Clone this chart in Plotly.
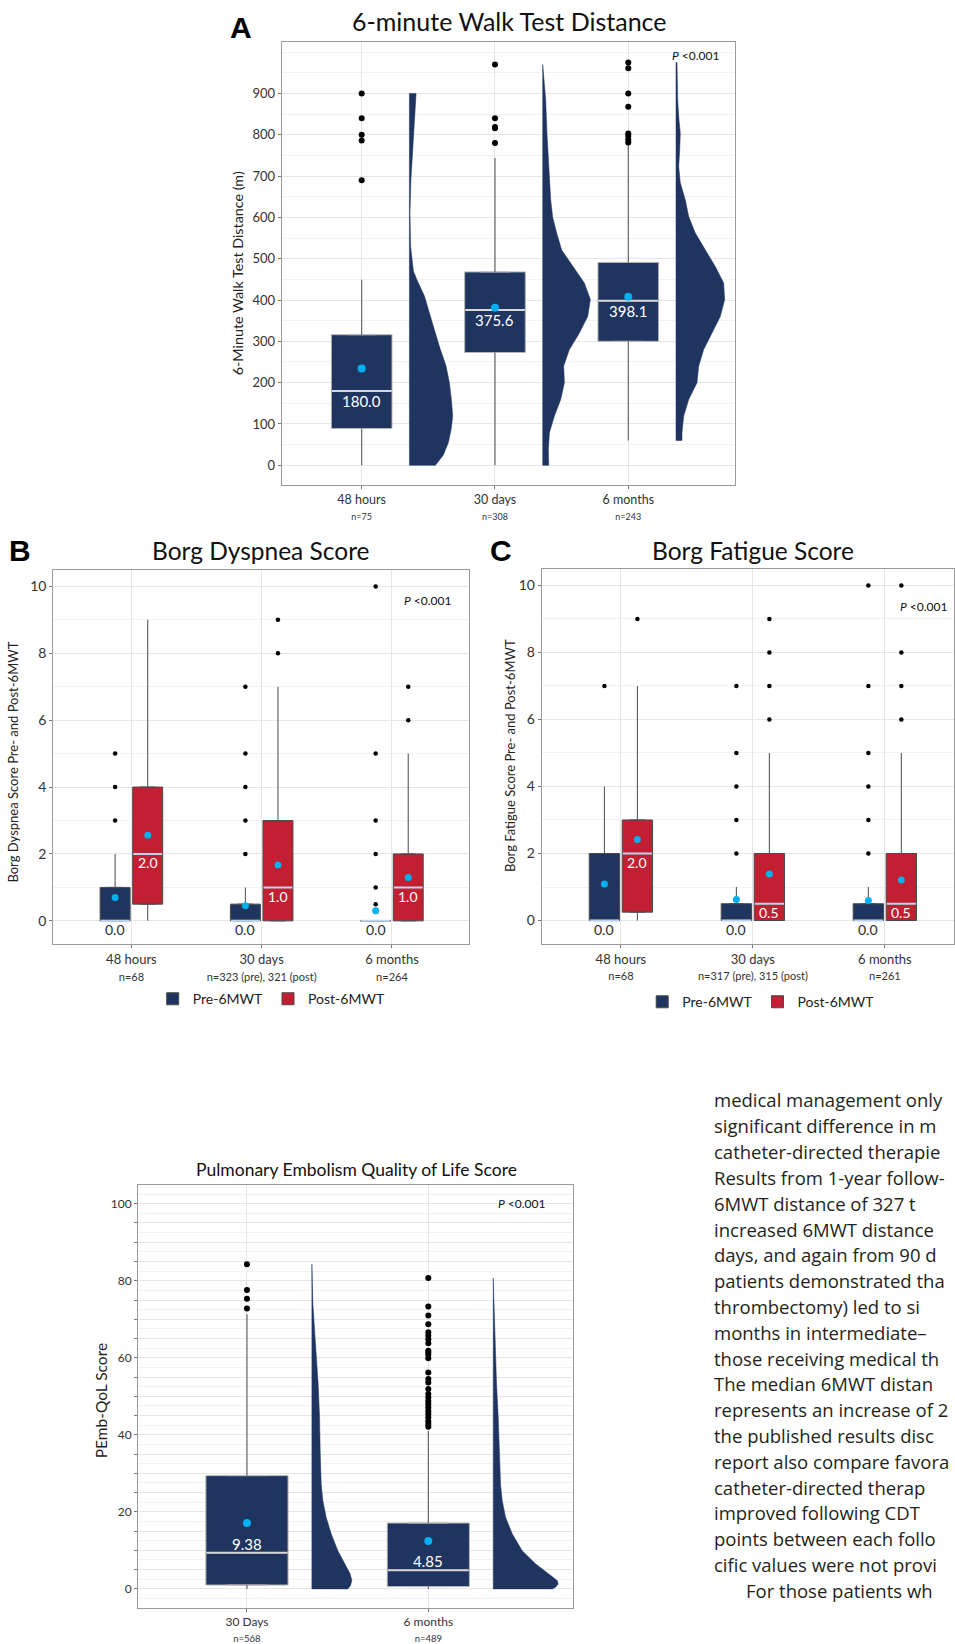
import plotly.graph_objects as go

# ---------------- DATA ----------------
# Panel A: 6-minute walk test distance
A_cats = ["48 hours", "30 days", "6 months"]
A_n = ["n=75", "n=308", "n=243"]
A_q1 = [89, 273, 300]
A_median = [180.0, 375.6, 398.1]
A_q3 = [316, 468, 491]
A_lower = [0, 0, 60]
A_upper = [449, 744, 776]
A_mean = [234, 381, 408]
A_outliers = [[900, 840, 800, 786, 690],
              [970, 840, 819, 816, 780],
              [975, 961, 900, 868, 803, 797, 788, 781]]
A_violin_y = [
    [0, 25, 55, 90, 120, 160, 200, 240, 280, 328, 370, 410, 449, 470, 530, 611, 690, 750, 811, 860, 900],
    [0, 39, 79, 119, 159, 200, 240, 280, 320, 360, 401, 441, 483, 521, 562, 600, 642, 723, 803, 884, 940, 970],
    [60, 79, 119, 159, 200, 240, 280, 320, 360, 401, 441, 481, 521, 562, 602, 642, 684, 723, 763, 803, 844, 884, 975],
]
A_violin_d = [
    [26, 34, 39, 42, 43.3, 42, 40, 36.7, 31, 25, 20, 15, 7.5, 4, 1.2, 0.6, 1.5, 3, 4.7, 6, 6.7],
    [6, 5.7, 6.7, 11.7, 18, 21.7, 21, 26.7, 36.7, 45, 47.7, 41.7, 30, 19, 14, 10, 8, 6, 4.3, 3, 1.5, 0.3],
    [6, 6, 7.7, 12.7, 21, 22.7, 27.7, 36, 44.3, 48.7, 47.7, 39.3, 29.3, 19.3, 12.7, 9.3, 4.3, 2.7, 3.7, 4.3, 2.7, 1.7, 1],
]

# Panel B: Borg dyspnea
B_cats = ["48 hours", "30 days", "6 months"]
B_n = ["n=68", "n=323 (pre), 321 (post)", "n=264"]
B_pre_q1 = [0, 0, 0]
B_pre_median = [0.0, 0.0, 0.0]
B_pre_q3 = [1, 0.5, 0]
B_pre_lower = [0, 0, 0]
B_pre_upper = [2, 1, 0]
B_pre_mean = [0.70, 0.45, 0.30]
B_pre_outliers = [[3, 4, 5], [2, 3, 4, 5, 7], [0.5, 1, 2, 3, 5, 10]]
B_post_q1 = [0.5, 0, 0]
B_post_median = [2.0, 1.0, 1.0]
B_post_q3 = [4, 3, 2]
B_post_lower = [0, 0, 0]
B_post_upper = [9, 7, 5]
B_post_mean = [2.56, 1.67, 1.30]
B_post_outliers = [[], [8, 9], [6, 7]]

# Panel C: Borg fatigue
C_cats = ["48 hours", "30 days", "6 months"]
C_n = ["n=68", "n=317 (pre), 315 (post)", "n=261"]
C_pre_q1 = [0, 0, 0]
C_pre_median = [0.0, 0.0, 0.0]
C_pre_q3 = [2, 0.5, 0.5]
C_pre_lower = [0, 0, 0]
C_pre_upper = [4, 1, 1]
C_pre_mean = [1.09, 0.63, 0.60]
C_pre_outliers = [[7], [2, 3, 4, 5, 7], [2, 3, 4, 5, 7, 10]]
C_post_q1 = [0.25, 0, 0]
C_post_median = [2.0, 0.5, 0.5]
C_post_q3 = [3, 2, 2]
C_post_lower = [0, 0, 0]
C_post_upper = [7, 5, 5]
C_post_mean = [2.42, 1.39, 1.21]
C_post_outliers = [[9], [6, 7, 8, 9], [6, 7, 8, 10]]

# Panel D: PEmb-QoL
D_cats = ["30 Days", "6 months"]
D_n = ["n=568", "n=489"]
D_q1 = [1.0, 0.6]
D_median = [9.38, 4.85]
D_q3 = [29.4, 17.1]
D_lower = [0, 0]
D_upper = [71.3, 41.0]
D_mean = [17.1, 12.4]
D_outliers = [[84.3, 77.6, 75.3, 72.8],
              [80.7, 73.3, 71.0, 68.7, 66.6, 65.7, 64.8, 63.8, 61.8, 61.4, 60.8, 59.9,
               56.2, 54.5, 53.6, 51.9, 50.6, 49.7, 48.8, 48.0, 47.1, 46.2, 45.4, 44.5,
               43.5, 42.8, 42.1]]
D_violin_y = [
    [0, 0.9, 2.2, 3.9, 6.5, 9.9, 14.3, 18.6, 22.9, 27.2, 35.9, 44.5, 53.2, 61.8, 73.9, 84.3],
    [0, 0.4, 1.3, 2.2, 3.9, 6.5, 9.9, 14.3, 18.6, 22.9, 27.2, 35.9, 44.5, 53.2, 61.8, 70.4, 80.7],
]
D_violin_d = [
    [36, 38.7, 40, 38.3, 32.7, 26, 19.3, 14.3, 11, 9.3, 8.3, 7.7, 6.3, 4.3, 1, 0],
    [59, 62.3, 65, 64, 55.7, 42.3, 29, 19, 12.3, 9, 7.3, 6.3, 5, 3.3, 2.3, 1, 0],
]

BODY_LINES = [
    "medical management only",
    "significant difference in m",
    "catheter-directed therapie",
    "Results from 1-year follow-",
    "6MWT distance of 327 t",
    "increased 6MWT distance",
    "days, and again from 90 d",
    "patients demonstrated tha",
    "thrombectomy) led to si",
    "months in intermediate\u2013",
    "those receiving medical th",
    "The median 6MWT distan",
    "represents an increase of 2",
    "the published results disc",
    "report also compare favora",
    "catheter-directed therap",
    "improved following CDT",
    "points between each follo",
    "cific values were not provi",
    "For those patients wh",
]

# ---------------- STYLE ----------------
W, H = 955, 1644
FONT = "Lato"
BODY_FONT = "Open Sans"
NAVY = "#1f3560"
RED = "#c21f32"
CYAN = "#00b0f0"
GRID = "#e6e6e6"
MINOR = "#f2f2f2"
BORDER = "#9a9a9a"

fig = go.Figure()


def px_x(p):
    return p / W


def px_y(p):
    return 1 - p / H


def add_boxes(xa, ya, pos, q1, med, q3, lo, hi, width, fill, outline, medcol,
              name=None, legend=None, showlegend=False):
    fig.add_trace(go.Box(x=pos, q1=q1, median=med, q3=q3, lowerfence=q1, upperfence=q3,
                         width=width, fillcolor=fill, line=dict(color=outline, width=1),
                         boxpoints=False, xaxis=xa, yaxis=ya, name=name,
                         legend=legend, showlegend=showlegend, hoverinfo="skip"))
    wx, wy = [], []
    for p, a, b, c, d in zip(pos, q1, q3, lo, hi):
        wx += [p, p, None, p, p, None]
        wy += [b, d, None, a, c, None]
    fig.add_trace(go.Scatter(x=wx, y=wy, mode="lines", line=dict(color="#5a5a5a", width=1.1),
                             xaxis=xa, yaxis=ya, showlegend=False, hoverinfo="skip"))
    mx, my = [], []
    for p, m in zip(pos, med):
        mx += [p - width / 2 + 0.004, p + width / 2 - 0.004, None]
        my += [m, m, None]
    fig.add_trace(go.Scatter(x=mx, y=my, mode="lines", line=dict(color=medcol, width=2),
                             xaxis=xa, yaxis=ya, showlegend=False, hoverinfo="skip"))


def add_points(xa, ya, pos, outliers, mean, osize, msize):
    ox, oy = [], []
    for p, outs in zip(pos, outliers):
        ox += [p] * len(outs)
        oy += outs
    fig.add_trace(go.Scatter(x=ox, y=oy, mode="markers", marker=dict(color="black", size=osize),
                             xaxis=xa, yaxis=ya, showlegend=False, hoverinfo="skip"))
    fig.add_trace(go.Scatter(x=pos, y=mean, mode="markers", marker=dict(color=CYAN, size=msize),
                             xaxis=xa, yaxis=ya, showlegend=False, hoverinfo="skip"))


def add_violin(xa, ya, center, ys, ds, scale, offset):
    base = center + offset
    xs = [base] + [base + d * scale for d in ds] + [base, base]
    yy = [ys[0]] + list(ys) + [ys[-1], ys[0]]
    fig.add_trace(go.Scatter(x=xs, y=yy, mode="lines", fill="toself", fillcolor=NAVY,
                             line=dict(color=NAVY, width=0.5),
                             xaxis=xa, yaxis=ya, showlegend=False, hoverinfo="skip"))


def median_labels(xa, ya, pos, med, q1, fmt, shift, size):
    for p, m, a in zip(pos, med, q1):
        col = "white" if (m > a or shift > 0) else "#2b2b2b"
        fig.add_annotation(x=p, y=m, xref=xa, yref=ya, text=fmt.format(m), showarrow=False,
                           yshift=shift, font=dict(family=FONT, size=size, color=col))


# ---------- Panel A ----------
posA = list(range(len(A_cats)))
for i in posA:
    add_violin("x", "y", i, A_violin_y[i], A_violin_d[i], 1 / 133.4, 0.358)
add_boxes("x", "y", posA, A_q1, A_median, A_q3, A_lower, A_upper, 0.455, NAVY, "#b5b5b5", "#d6d6d6")
add_points("x", "y", posA, A_outliers, A_mean, 6, 8)
median_labels("x", "y", posA, A_median, A_q1, "{:.1f}", -10, 15)

# ---------- Panel B ----------
posB = list(range(len(B_cats)))
preB = [p - 0.125 for p in posB]
postB = [p + 0.125 for p in posB]
add_boxes("x2", "y2", preB, B_pre_q1, B_pre_median, B_pre_q3, B_pre_lower, B_pre_upper, 0.23,
          NAVY, "#4a4a4a", "#bcd5ee", name="Pre-6MWT", legend="legend", showlegend=True)
add_boxes("x2", "y2", postB, B_post_q1, B_post_median, B_post_q3, B_post_lower, B_post_upper, 0.23,
          RED, "#4a4a4a", "#bcd5ee", name="Post-6MWT", legend="legend", showlegend=True)
add_points("x2", "y2", preB, B_pre_outliers, B_pre_mean, 4.5, 7)
add_points("x2", "y2", postB, B_post_outliers, B_post_mean, 4.5, 7)
median_labels("x2", "y2", preB, B_pre_median, B_pre_q1, "{:.1f}", -9, 14)
median_labels("x2", "y2", postB, B_post_median, B_post_q1, "{:.1f}", -9, 14)

# ---------- Panel C ----------
posC = list(range(len(C_cats)))
preC = [p - 0.125 for p in posC]
postC = [p + 0.125 for p in posC]
add_boxes("x3", "y3", preC, C_pre_q1, C_pre_median, C_pre_q3, C_pre_lower, C_pre_upper, 0.23,
          NAVY, "#4a4a4a", "#bcd5ee", name="Pre-6MWT", legend="legend2", showlegend=True)
add_boxes("x3", "y3", postC, C_post_q1, C_post_median, C_post_q3, C_post_lower, C_post_upper, 0.23,
          RED, "#4a4a4a", "#bcd5ee", name="Post-6MWT", legend="legend2", showlegend=True)
add_points("x3", "y3", preC, C_pre_outliers, C_pre_mean, 4.5, 7)
add_points("x3", "y3", postC, C_post_outliers, C_post_mean, 4.5, 7)
median_labels("x3", "y3", preC, C_pre_median, C_pre_q1, "{:.1f}", -9, 14)
median_labels("x3", "y3", postC, C_post_median, C_post_q1, "{:.1f}", -9, 14)

# ---------- Panel D ----------
posD = list(range(len(D_cats)))
for i in posD:
    add_violin("x4", "y4", i, D_violin_y[i], D_violin_d[i], 1 / 181.5, 0.358)
add_boxes("x4", "y4", posD, D_q1, D_median, D_q3, D_lower, D_upper, 0.453, NAVY, "#b5b5b5", "#d6d6d6")
add_points("x4", "y4", posD, D_outliers, D_mean, 6, 8)
median_labels("x4", "y4", posD, D_median, D_q1, "{:.2f}", 9, 15)


# ---------- Axes ----------
def cat_ticks(cats, ns, nsize):
    return [f"{c}<br><span style='font-size:{nsize}px'>{n}</span>" for c, n in zip(cats, ns)]


common = dict(showline=True, mirror=True, linecolor=BORDER, linewidth=1, showgrid=True,
              gridcolor=GRID, zeroline=False, ticks="outside", ticklen=3, tickcolor="#777",
              fixedrange=True)

fig.update_layout(
    xaxis=dict(common, domain=[px_x(282), px_x(735.7)], range=[-0.6, 2.8], anchor="y",
               tickvals=posA, ticktext=cat_ticks(A_cats, A_n, 9),
               tickfont=dict(family=FONT, size=12.5, color="#333")),
    yaxis=dict(common, domain=[px_y(486), px_y(42.3)], range=[-48, 1024], anchor="x",
               tickvals=list(range(0, 901, 100)), tickfont=dict(family=FONT, size=13, color="#333"),
               minor=dict(dtick=50, showgrid=True, gridcolor=MINOR, tick0=0)),
    xaxis2=dict(common, domain=[px_x(53.3), px_x(469.3)], range=[-0.6, 2.59], anchor="y2",
                tickvals=posB, ticktext=cat_ticks(B_cats, B_n, 11),
                tickfont=dict(family=FONT, size=13, color="#333")),
    yaxis2=dict(common, domain=[px_y(946), px_y(570.7)], range=[-0.7, 10.5], anchor="x2",
                tickvals=list(range(0, 11, 2)), tickfont=dict(family=FONT, size=14, color="#333"),
                minor=dict(dtick=1, showgrid=True, gridcolor=MINOR, tick0=0)),
    xaxis3=dict(common, domain=[px_x(542.3), 1.0], range=[-0.6, 2.524], anchor="y3",
                tickvals=posC, ticktext=cat_ticks(C_cats, C_n, 11),
                tickfont=dict(family=FONT, size=13, color="#333")),
    yaxis3=dict(common, domain=[px_y(945.7), px_y(569.7)], range=[-0.7, 10.5], anchor="x3",
                tickvals=list(range(0, 11, 2)), tickfont=dict(family=FONT, size=14, color="#333"),
                minor=dict(dtick=1, showgrid=True, gridcolor=MINOR, tick0=0)),
    xaxis4=dict(common, domain=[px_x(138.3), px_x(574)], range=[-0.6, 1.8], anchor="y4",
                tickvals=posD, ticktext=cat_ticks(D_cats, D_n, 9.5),
                tickfont=dict(family=FONT, size=12, color="#333")),
    yaxis4=dict(common, domain=[px_y(1610.7), px_y(1187)], range=[-4.9, 104.9], anchor="x4",
                tickvals=list(range(0, 101, 5)),
                ticktext=[str(v) if v % 20 == 0 else "" for v in range(0, 101, 5)],
                tickfont=dict(family=FONT, size=12, color="#333"),
                minor=dict(dtick=2.5, showgrid=True, gridcolor=MINOR, tick0=0)),
)


# ---------- Text: titles, labels ----------
def ann(x, y, text, size, color="#111", angle=0, xanchor="center", family=FONT):
    fig.add_annotation(x=px_x(x), y=px_y(y), xref="paper", yref="paper", text=text,
                       showarrow=False, xanchor=xanchor, yanchor="middle", textangle=angle,
                       font=dict(family=family, size=size, color=color))


ann(510, 21, "6-minute Walk Test Distance", 25)
ann(261, 552, "Borg Dyspnea Score", 24.5)
ann(754, 552, "Borg Fatigue Score", 24.5)
ann(357, 1172, "Pulmonary Embolism Quality of Life Score", 17.5)

ann(241, 28, "<b>A</b>", 30, "black", family="Liberation Sans")
ann(20, 552, "<b>B</b>", 30, "black", family="Liberation Sans")
ann(502, 552, "<b>C</b>", 30, "black", family="Liberation Sans")

ann(238, 274, "6-Minute Walk Test Distance (m)", 14.3, "#222", angle=-90)
ann(13, 763, "Borg Dyspnea Score Pre- and Post-6MWT", 13, "#222", angle=-90)
ann(510, 757, "Borg Fatigue Score Pre- and Post-6MWT", 13, "#222", angle=-90)
ann(102, 1403, "PEmb-QoL Score", 15.5, "#222", angle=-90)

PTXT = "<i>P</i> &lt;0.001"
for xa, ya, xv, yv in [("x", "y", 2.507, 991), ("x2", "y2", 2.275, 9.57),
                       ("x3", "y3", 2.29, 9.38), ("x4", "y4", 1.513, 100)]:
    fig.add_annotation(x=xv, y=yv, xref=xa, yref=ya, text=PTXT, showarrow=False,
                       font=dict(family=FONT, size=12, color="#111"))

# body text column
for i, line in enumerate(BODY_LINES):
    x0 = 745 if i == len(BODY_LINES) - 1 else 712.5
    ann(x0, 1102 + i * 25.85, line, 18.5, "#231f20", xanchor="left", family=BODY_FONT)

# ---------- Legends ----------
leg = dict(orientation="h", xanchor="center", yanchor="middle", bgcolor="rgba(0,0,0,0)",
           font=dict(family=FONT, size=14, color="#222"), itemwidth=30, tracegroupgap=0)
fig.update_layout(
    legend=dict(leg, x=px_x(272), y=px_y(1001)),
    legend2=dict(leg, x=px_x(762), y=px_y(1004)),
    width=W, height=H, margin=dict(l=0, r=0, t=0, b=0),
    plot_bgcolor="white", paper_bgcolor="white", boxmode="overlay",
    font=dict(family=FONT),
)

fig.write_html("out.html", config={"displayModeBar": False},
               post_script="document.body.style.margin='0';document.body.style.overflow='hidden';")
